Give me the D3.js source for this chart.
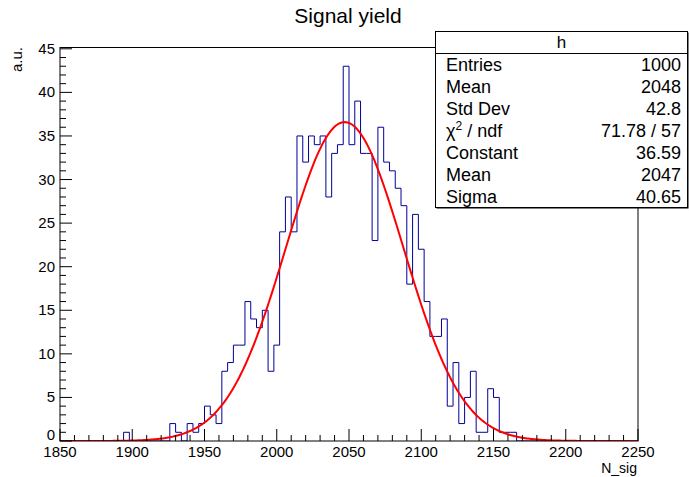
<!DOCTYPE html>
<html>
<head>
<meta charset="utf-8">
<script src="https://cdn.jsdelivr.net/npm/d3@7"></script>
<style>
  html, body { margin: 0; padding: 0; background: #fff; }
  svg { display: block; }
  text { font-family: "Liberation Sans", Arial, Helvetica, sans-serif; fill: #000; }
</style>
</head>
<body>
<svg id="chart" width="689" height="477"></svg>
<script>
// ---- data ----
const binLow = 1850;
const binWidth = 4;
const counts = [
  0,0,0,0,0,0,0,0,0,0,
  0,1,0,0,0,0,0,0,0,2,
  1,0,2,1,2,4,3,2,8,9,
  11,11,16,14,13,15,8,11,24,28,
  24,35,32,35,34,35,28,33,34,43,
  34,39,33,33,23,36,32,31,29,27,
  18,26,22,16,12,12,14,4,9,2,
  5,8,1,1,6,5,1,1,1,0,
  0,0,0,0,0,0,0,0,0,0,
  0,0,0,0,0,0,0,0,0,0
];
const fitParams = [36.59, 2047, 40.65]; // Constant, Mean, Sigma
const xTicks = [1850, 1900, 1950, 2000, 2050, 2100, 2150, 2200, 2250];
const yTicks = [0, 5, 10, 15, 20, 25, 30, 35, 40, 45];
const statLabels = ["Entries", "Mean", "Std Dev", "CHI", "Constant", "Mean", "Sigma"];
const statValues = ["1000", "2048", "42.8", "71.78 / 57", "36.59", "2047", "40.65"];

// ---- layout ----
const svg = d3.select("#chart");
const fx0 = 60, fx1 = 638, fy0 = 47.5, fy1 = 441;
const x = d3.scaleLinear().domain([1850, 2250]).range([fx0, fx1]);
const y = d3.scaleLinear().domain([0, 45.15]).range([fy1, fy0]);

// title
svg.append("text").attr("x", 348).attr("y", 23).attr("text-anchor", "middle")
  .attr("font-size", 21).text("Signal yield");

// clip
svg.append("clipPath").attr("id", "clip").append("rect")
  .attr("x", fx0).attr("y", fy0).attr("width", fx1 - fx0).attr("height", fy1 - fy0);

// histogram step outline
const pts = [[binLow, 0]];
counts.forEach((c, i) => {
  const a = binLow + i * binWidth;
  pts.push([a, c]);
  pts.push([a + binWidth, c]);
});
pts.push([binLow + counts.length * binWidth, 0]);
const line = d3.line().x(d => x(d[0])).y(d => y(d[1]));
svg.append("path").attr("d", line(pts)).attr("fill", "none")
  .attr("stroke", "#000099").attr("stroke-width", 1).attr("clip-path", "url(#clip)");

// fit function (gaussian from displayed fit parameters)
const [A, mu, sg] = fitParams;
const fpts = d3.range(0, 401).map(i => {
  const xv = 1850 + i;
  return [xv, A * Math.exp(-0.5 * Math.pow((xv - mu) / sg, 2))];
});
svg.append("path").attr("d", line(fpts)).attr("fill", "none")
  .attr("stroke", "#ff0000").attr("stroke-width", 2).attr("clip-path", "url(#clip)");

// frame
svg.append("rect").attr("x", fx0).attr("y", fy0).attr("width", fx1 - fx0).attr("height", fy1 - fy0)
  .attr("fill", "none").attr("stroke", "#000").attr("stroke-width", 1);

// x axis ticks (inside, pointing up)
const xAxis = svg.append("g");
d3.range(1850, 2251, 10).forEach(v => {
  const major = v % 50 === 0;
  xAxis.append("line").attr("x1", x(v)).attr("x2", x(v))
    .attr("y1", fy1).attr("y2", fy1 - (major ? 12 : 6))
    .attr("stroke", "#000").attr("stroke-width", 1);
});
xTicks.forEach(v => {
  xAxis.append("text").attr("x", x(v)).attr("y", 456.5).attr("text-anchor", "middle")
    .attr("font-size", 15).text(v);
});
svg.append("text").attr("x", 637).attr("y", 472.5).attr("text-anchor", "end")
  .attr("font-size", 14).text("N_sig");

// y axis ticks (inside, pointing right)
const yAxis = svg.append("g");
d3.range(0, 46, 1).forEach(v => {
  const major = v % 5 === 0;
  yAxis.append("line").attr("x1", fx0).attr("x2", fx0 + (major ? 12 : 6))
    .attr("y1", y(v)).attr("y2", y(v)).attr("stroke", "#000").attr("stroke-width", 1);
});
yTicks.forEach(v => {
  yAxis.append("text").attr("x", 55).attr("y", y(v) + (v === 0 ? -1.5 : 5)).attr("text-anchor", "end")
    .attr("font-size", 15).text(v);
});
svg.append("text").attr("transform", "translate(22,47) rotate(-90)")
  .attr("text-anchor", "end").attr("font-size", 15).text("a.u.");

// stats box
const bx0 = 435.5, bx1 = 687.5, by0 = 31.5, by1 = 207.5, rowH = 22;
svg.append("rect").attr("x", bx0 + 1).attr("y", by0 + 1).attr("width", bx1 - bx0).attr("height", by1 - by0)
  .attr("fill", "#000");
svg.append("rect").attr("x", bx0).attr("y", by0).attr("width", bx1 - bx0).attr("height", by1 - by0)
  .attr("fill", "#fff").attr("stroke", "#000").attr("stroke-width", 1);
svg.append("line").attr("x1", bx0).attr("x2", bx1).attr("y1", by0 + rowH).attr("y2", by0 + rowH)
  .attr("stroke", "#000").attr("stroke-width", 1);
svg.append("text").attr("x", (bx0 + bx1) / 2).attr("y", by0 + 16).attr("text-anchor", "middle")
  .attr("font-size", 17).text("h");
statLabels.forEach((lab, i) => {
  const cy = by0 + rowH * (i + 1) + rowH / 2 + 6;
  const t = svg.append("text").attr("x", 446).attr("y", cy).attr("font-size", 18);
  if (lab === "CHI") {
    t.append("tspan").text("\u03C7");
    t.append("tspan").attr("font-size", 12).attr("dy", -7).text("2");
    t.append("tspan").attr("dy", 7).text(" / ndf");
  } else {
    t.text(lab);
  }
  svg.append("text").attr("x", 681).attr("y", cy).attr("text-anchor", "end")
    .attr("font-size", 18).text(statValues[i]);
});
</script>
</body>
</html>
